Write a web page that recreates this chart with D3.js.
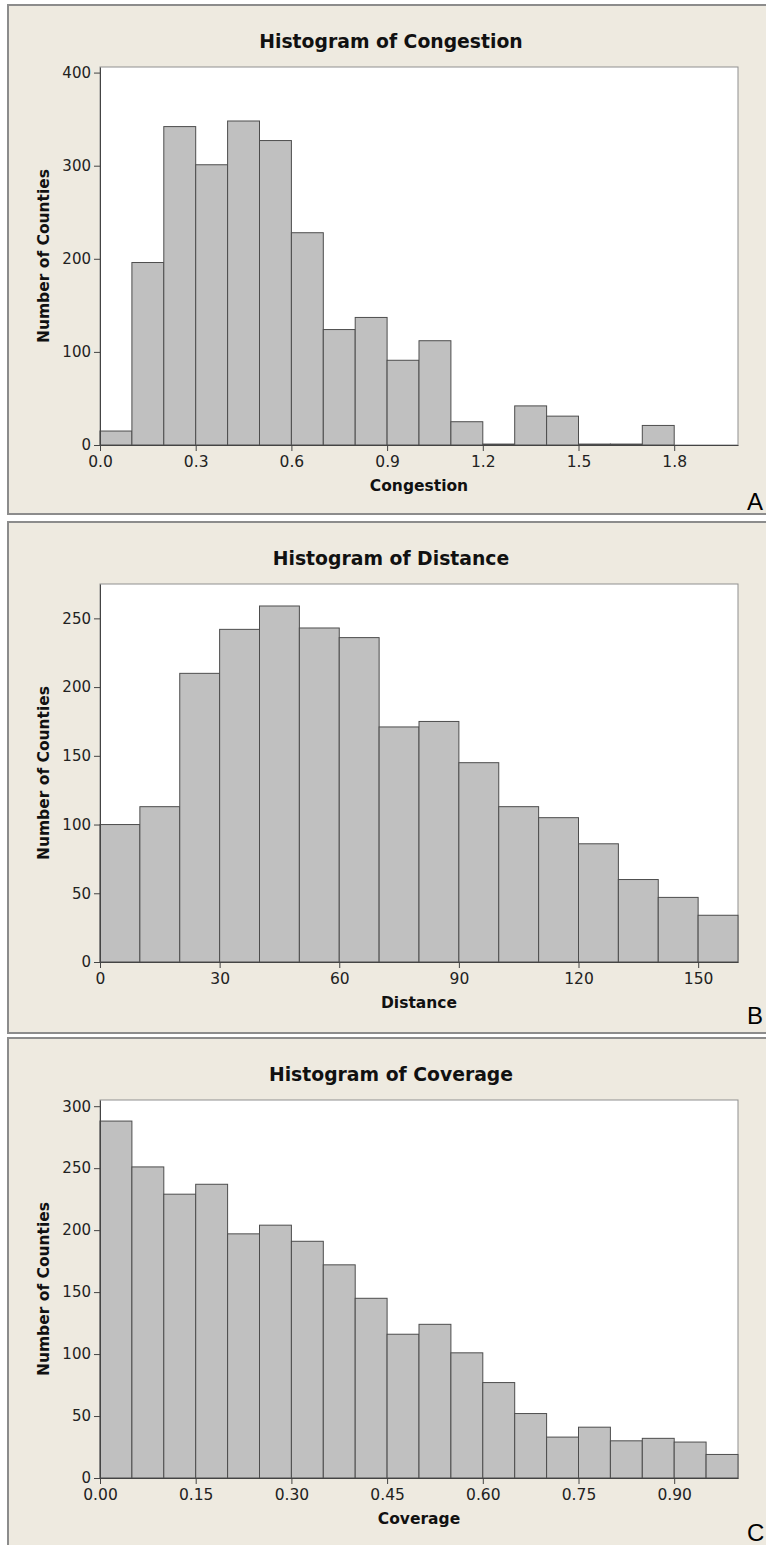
<!DOCTYPE html>
<html>
<head>
<meta charset="utf-8">
<script src="https://cdn.jsdelivr.net/npm/d3@7"></script>
<style>
  body { margin: 0; background: #ffffff; }
  svg { display: block; }
</style>
</head>
<body>
<div id="chart"></div>
<script>
// 数据：每个直方图的分箱下界与计数
const congestionBins = [0.0, 0.1, 0.2, 0.3, 0.4, 0.5, 0.6, 0.7, 0.8, 0.9, 1.0, 1.1, 1.2, 1.3, 1.4, 1.5, 1.6, 1.7];
const congestionCounts = [15, 196, 342, 301, 348, 327, 228, 124, 137, 91, 112, 25, 1, 42, 31, 1, 1, 21];
const congestionXTicks = [0.0, 0.3, 0.6, 0.9, 1.2, 1.5, 1.8];
const congestionYTicks = [0, 100, 200, 300, 400];

const distanceBins = [0, 10, 20, 30, 40, 50, 60, 70, 80, 90, 100, 110, 120, 130, 140, 150];
const distanceCounts = [100, 113, 210, 242, 259, 243, 236, 171, 175, 145, 113, 105, 86, 60, 47, 34];
const distanceXTicks = [0, 30, 60, 90, 120, 150];
const distanceYTicks = [0, 50, 100, 150, 200, 250];

const coverageBins = [0.00, 0.05, 0.10, 0.15, 0.20, 0.25, 0.30, 0.35, 0.40, 0.45, 0.50, 0.55, 0.60, 0.65, 0.70, 0.75, 0.80, 0.85, 0.90, 0.95];
const coverageCounts = [288, 251, 229, 237, 197, 204, 191, 172, 145, 116, 124, 101, 77, 52, 33, 41, 30, 32, 29, 19];
const coverageXTicks = [0.00, 0.15, 0.30, 0.45, 0.60, 0.75, 0.90];
const coverageYTicks = [0, 50, 100, 150, 200, 250, 300];

const svg = d3.select('#chart').append('svg')
    .attr('width', 766)
    .attr('height', 1545);

const TICK_FONT = '"DejaVu Sans", Verdana, sans-serif';
const BOLD_FONT = '"DejaVu Sans", Verdana, sans-serif';

function drawHistogram(p) {
    const g = svg.append('g').attr('transform', `translate(0,${p.top})`);

    // 外框（米色背景）
    g.append('rect')
        .attr('x', 8).attr('y', 0)
        .attr('width', 800).attr('height', p.height)
        .attr('fill', '#eeeae0')
        .attr('stroke', '#8c8c8c')
        .attr('stroke-width', 2);

    const plot = { left: 100, right: 738, top: 62, bottom: 440 };
    const x = d3.scaleLinear().domain(p.xDomain).range([plot.left, plot.right]);
    const y = d3.scaleLinear().domain(p.yDomain).range([plot.bottom, plot.top]);

    // 白色绘图区
    g.append('rect')
        .attr('x', plot.left).attr('y', plot.top)
        .attr('width', plot.right - plot.left)
        .attr('height', plot.bottom - plot.top)
        .attr('fill', '#ffffff')
        .attr('stroke', '#8f8f8f')
        .attr('stroke-width', 1);

    const data = p.bins.map((b, i) => ({ x0: b, x1: b + p.binWidth, count: p.counts[i] }))
        .filter(d => d.count > 0);

    g.selectAll('.bar')
        .data(data)
        .enter().append('rect')
        .attr('class', 'bar')
        .attr('x', d => x(d.x0))
        .attr('y', d => y(d.count))
        .attr('width', d => x(d.x1) - x(d.x0))
        .attr('height', d => y(0) - y(d.count))
        .attr('fill', '#c0c0c0')
        .attr('stroke', '#4d4d4d')
        .attr('stroke-width', 1);

    // Y 轴
    const yAxis = g.append('g')
        .attr('transform', `translate(${plot.left},0)`)
        .call(d3.axisLeft(y).tickValues(p.yTicks).tickSize(6).tickSizeOuter(0).tickPadding(3));
    yAxis.selectAll('text').attr('font-family', TICK_FONT).attr('font-size', 15).attr('fill', '#222');
    yAxis.selectAll('line').attr('stroke', '#444');
    yAxis.select('.domain').attr('stroke', '#444');

    // X 轴
    const xAxis = g.append('g')
        .attr('transform', `translate(0,${plot.bottom})`)
        .call(d3.axisBottom(x).tickValues(p.xTicks).tickFormat(d3.format(p.fmt)).tickSize(6).tickSizeOuter(0).tickPadding(5));
    xAxis.selectAll('text').attr('font-family', TICK_FONT).attr('font-size', 15.5).attr('fill', '#222');
    xAxis.selectAll('line').attr('stroke', '#444');
    xAxis.select('.domain').attr('stroke', '#444');

    // 标题
    g.append('text')
        .attr('x', 391).attr('y', 43)
        .attr('text-anchor', 'middle')
        .attr('font-family', BOLD_FONT).attr('font-weight', 'bold').attr('font-size', 18.8)
        .attr('fill', '#111')
        .text(p.title);

    // 坐标轴标题
    g.append('text')
        .attr('x', 419).attr('y', plot.bottom + 46)
        .attr('text-anchor', 'middle')
        .attr('font-family', BOLD_FONT).attr('font-weight', 'bold').attr('font-size', 15.5)
        .attr('fill', '#111')
        .text(p.xLabel);

    g.append('text')
        .attr('transform', `translate(49,${(plot.top + plot.bottom) / 2}) rotate(-90)`)
        .attr('text-anchor', 'middle')
        .attr('font-family', BOLD_FONT).attr('font-weight', 'bold').attr('font-size', 15.5)
        .attr('fill', '#111')
        .text('Number of Counties');

    // 面板字母（贴右边缘，但保持完整可见）
    g.append('text')
        .attr('x', 747).attr('y', p.letterY)
        .attr('font-family', '"Liberation Sans", Arial, sans-serif').attr('font-size', 24)
        .attr('fill', '#000')
        .text(p.letter);
}

drawHistogram({
    top: 5, height: 509, title: 'Histogram of Congestion', xLabel: 'Congestion', letter: 'A', letterY: 505,
    bins: congestionBins, counts: congestionCounts, binWidth: 0.1,
    xDomain: [0, 2.0], yDomain: [0, 406], xTicks: congestionXTicks, yTicks: congestionYTicks, fmt: '.1f'
});
drawHistogram({
    top: 522, height: 511, title: 'Histogram of Distance', xLabel: 'Distance', letter: 'B', letterY: 502,
    bins: distanceBins, counts: distanceCounts, binWidth: 10,
    xDomain: [0, 160], yDomain: [0, 275], xTicks: distanceXTicks, yTicks: distanceYTicks, fmt: 'd'
});
drawHistogram({
    top: 1038, height: 530, title: 'Histogram of Coverage', xLabel: 'Coverage', letter: 'C', letterY: 503,
    bins: coverageBins, counts: coverageCounts, binWidth: 0.05,
    xDomain: [0, 1.0], yDomain: [0, 305], xTicks: coverageXTicks, yTicks: coverageYTicks, fmt: '.2f'
});
</script>
</body>
</html>
